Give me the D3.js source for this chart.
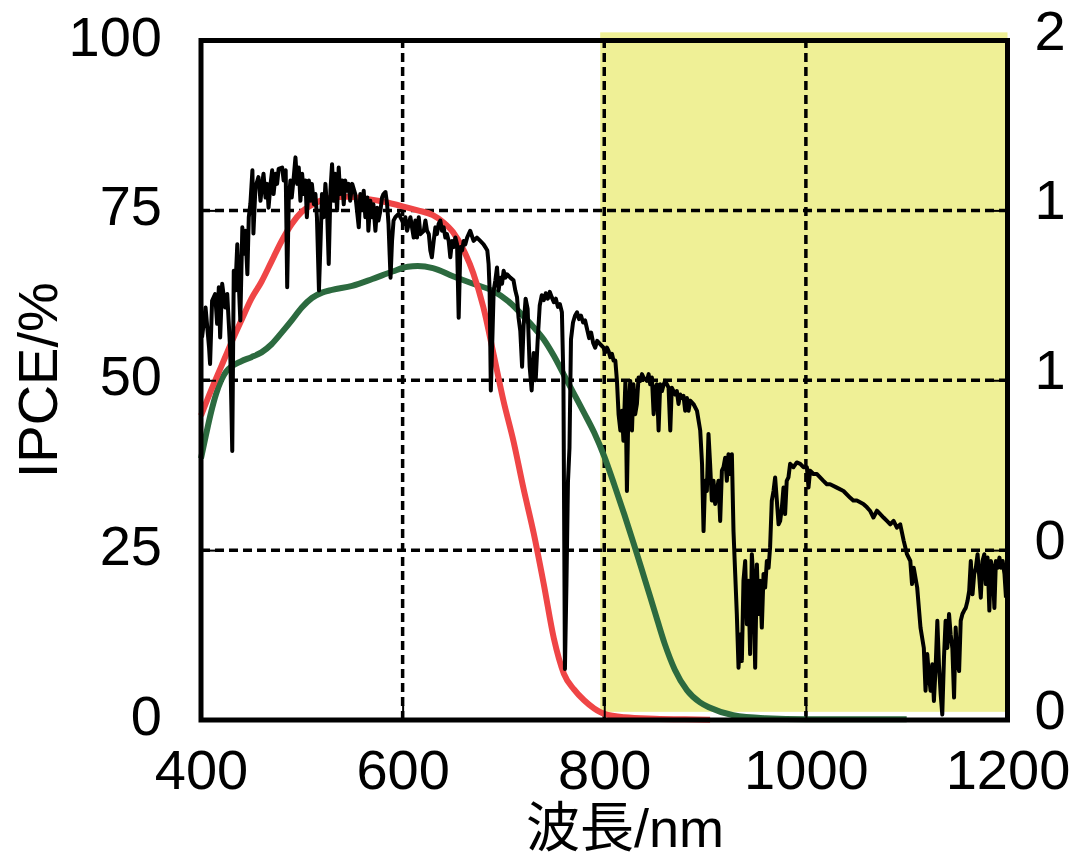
<!DOCTYPE html>
<html>
<head>
<meta charset="utf-8">
<script src="https://cdn.jsdelivr.net/npm/d3@7"></script>
<style>
  html, body { margin: 0; padding: 0; background: #fff; }
  svg { display: block; }
  text { font-family: "Liberation Sans", Arial, "Noto Sans CJK JP", sans-serif; fill: #000; }
</style>
</head>
<body>
<svg id="chart" width="1072" height="860"></svg>
<script>
// Axis ticks
const wavelengthTicks = [400, 600, 800, 1000, 1200];
const ipceTicks = [0, 25, 50, 75, 100];
const irradianceTicks = [0, 0.5, 1, 1.5, 2];
const irradianceTickLabels = ["0", "0", "1", "1", "2"];

// Near-infrared band that is shaded (nm) and its vertical extent (%)
const shadedBand = [796, 1200];
const shadedLevels = [1.2, 101.2];

// IPCE of the first cell (red), %
const redWavelength = [400, 410, 420, 430, 440, 450, 460, 470, 480, 490, 500, 510, 520, 530, 545, 560, 580, 600, 615, 630, 640, 650, 660, 670, 680, 690, 700, 710, 720, 730, 740, 750, 760, 770, 780, 790, 800, 820, 850, 880, 905];
const redIPCE = [44.8, 48.5, 52, 55.5, 58.8, 62, 64.5, 67.5, 70.5, 73, 74.8, 75.8, 76.5, 76.9, 77, 76.8, 76.3, 75.6, 75, 74.3, 73.3, 71.8, 69.3, 65.8, 60.8, 54, 47, 41, 34, 27.5, 20, 12, 6.8, 4.5, 2.9, 1.7, 0.9, 0.4, 0.2, 0.1, 0.05];

// IPCE of the second cell (green), %
const greenWavelength = [400, 405, 410, 415, 420, 425, 430, 440, 450, 460, 470, 480, 490, 500, 510, 520, 530, 550, 570, 590, 605, 615, 630, 650, 670, 690, 705, 720, 730, 740, 750, 760, 770, 780, 790, 800, 810, 820, 830, 840, 850, 860, 870, 882, 895, 905, 928, 960, 1000, 1050, 1100];
const greenIPCE = [38.5, 42, 45.3, 48, 50, 51.3, 52, 52.8, 53.4, 54.1, 55.3, 57, 58.8, 60.7, 62.1, 62.9, 63.3, 63.9, 64.9, 66, 66.7, 66.8, 66.5, 65.3, 64.2, 63.1, 61.6, 59.4, 57.8, 56, 53.6, 50.8, 48, 45.2, 42.3, 38.8, 34.6, 30.2, 25.6, 20.8, 16, 11.2, 7.4, 4.4, 2.6, 1.8, 0.7, 0.25, 0.1, 0.1, 0.1];

// Solar spectral irradiance (black), right axis
const solarWavelength = [
  401, 404.5, 408, 409, 411, 414, 416, 417.7, 419, 421, 424, 426, 427.6, 429, 431, 432.5, 434, 436, 437.5, 439,
  441, 442.5, 444, 446, 447.4, 449, 451, 452, 454, 457, 459, 460.7, 462, 464, 465.6, 467, 469, 470.6, 472, 474,
  475.5, 477, 480.5, 482, 484, 485.5, 487, 488.7, 490, 492, 493.7, 495.4, 497, 498.6, 500.3, 502, 503.6, 505, 507, 508.5,
  510, 512, 513.5, 515, 517, 518.5, 520, 521.7, 523.4, 525, 526.7, 528.4, 530, 531.6, 533, 535, 536.6, 538, 540, 541.6,
  543, 545, 546.5, 548, 550, 553, 556.5, 558, 560, 561.4, 563, 565, 566, 568, 569.7, 571, 573, 574.7, 576, 578,
  579.6, 581, 583, 584.6, 586, 588, 589.5, 591, 592.8, 596, 599.5, 601, 602.7, 604.4, 607.7, 611, 612.6, 614.3, 616, 617.6,
  621, 622.6, 624.2, 626, 627.5, 629, 630.8, 632.5, 634, 635.7, 637.4, 639, 640.7, 642.4, 644, 645.7, 647.3, 649, 650.6, 652.3,
  654, 655.6, 657.3, 659, 660.5, 662.2, 664, 667, 670.4, 673.7, 677, 680.3, 682, 684, 685.3, 686.3, 687.5, 689, 690.3, 692,
  693.6, 695.2, 697, 698.6, 700.2, 702, 703.5, 706.8, 710, 711.8, 713.5, 715, 716.7, 718.5, 720, 722, 724, 726, 728, 730,
  732, 734, 736, 738, 740, 742, 744, 746, 748, 750, 752, 754, 756, 758, 759.5, 761, 762.5, 764, 765.5, 767,
  769, 771, 773, 775, 777, 779, 781, 783, 785, 787, 789, 791, 793, 796, 799.3, 801, 802.7, 804.3, 806, 807.6,
  809.2, 811, 812.6, 814.2, 816, 817.6, 819, 821, 822.5, 824, 825.8, 827.5, 829, 830.7, 832.4, 834, 835.7, 837.4, 839, 842.3,
  844, 845.6, 847.3, 849, 850.6, 852.2, 853.9, 855.5, 857.2, 859, 860.5, 862.2, 863.8, 865.5, 867, 868.7, 870.4, 872, 873.7, 875.3,
  877, 878.6, 880.3, 882, 883.6, 885.3, 888.5, 892, 895.2, 897, 898.5, 900, 901.8, 903.4, 905, 906.7, 908.4, 910, 911.7, 913.3,
  915, 916.7, 918.3, 920, 921.6, 923.2, 925, 926.6, 928.2, 929.9, 931.5, 933.2, 934.9, 936.5, 938.1, 939.8, 941.5, 943, 944.7, 946.4,
  948, 949.7, 951.4, 953, 954.6, 956.3, 958, 959.6, 961.3, 963, 964.5, 966.2, 967.9, 969.5, 971.2, 972.9, 974.5, 976.2, 977.8, 979.4,
  981, 982.7, 984.4, 987.7, 991, 994.4, 997.6, 1001, 1002.6, 1004.2, 1007.5, 1011, 1017.4, 1020.8, 1024, 1030.7, 1037.3, 1044, 1047, 1050.6,
  1057, 1060.6, 1063.6, 1067, 1070.5, 1073.8, 1077, 1080.4, 1083.7, 1087, 1090.3, 1093.6, 1097, 1100.3, 1103.6, 1105.3, 1107, 1110.4, 1113.7, 1117,
  1118.7, 1120.4, 1122, 1123.7, 1125.4, 1127, 1128.7, 1130.4, 1132, 1133.7, 1135.3, 1137, 1138.6, 1140.3, 1142, 1143.6, 1145.3, 1147, 1148.6, 1150.3,
  1152, 1153.6, 1155.3, 1157, 1158.6, 1160.3, 1162, 1163.6, 1165.3, 1167, 1168.6, 1170.3, 1173.5, 1175.2, 1177, 1178.5, 1180.2, 1182, 1183.5, 1185.2,
  1187, 1188.5, 1190.2, 1192, 1193.5, 1195.2, 1197, 1198.5
];
const solarIrradiance = [
  1.126, 1.214, 1.096, 1.048, 1.234, 1.254, 1.166, 1.274, 1.126, 1.284, 1.214, 1.254, 1.166, 1.086, 0.792, 1.322, 1.264, 1.400, 1.284, 1.176,
  1.450, 1.372, 1.440, 1.312, 1.480, 1.520, 1.618, 1.432, 1.568, 1.598, 1.528, 1.578, 1.608, 1.538, 1.578, 1.508, 1.578, 1.618, 1.548, 1.608,
  1.578, 1.622, 1.626, 1.588, 1.618, 1.274, 1.528, 1.588, 1.538, 1.598, 1.656, 1.578, 1.626, 1.528, 1.608, 1.548, 1.588, 1.480, 1.588, 1.528,
  1.578, 1.518, 1.548, 1.480, 1.264, 1.400, 1.548, 1.480, 1.578, 1.508, 1.342, 1.558, 1.636, 1.528, 1.608, 1.500, 1.626, 1.548, 1.588, 1.518,
  1.588, 1.558, 1.578, 1.528, 1.578, 1.548, 1.450, 1.548, 1.508, 1.558, 1.480, 1.538, 1.440, 1.528, 1.480, 1.518, 1.440, 1.508, 1.470, 1.500,
  1.538, 1.548, 1.554, 1.518, 1.460, 1.302, 1.410, 1.470, 1.480, 1.490, 1.470, 1.460, 1.480, 1.440, 1.480, 1.420, 1.470, 1.420, 1.480, 1.430,
  1.440, 1.470, 1.440, 1.430, 1.382, 1.362, 1.410, 1.450, 1.430, 1.460, 1.470, 1.440, 1.450, 1.420, 1.430, 1.410, 1.362, 1.410, 1.392, 1.420,
  1.400, 1.184, 1.392, 1.382, 1.410, 1.400, 1.420, 1.440, 1.410, 1.420, 1.410, 1.400, 1.392, 1.382, 1.342, 1.264, 0.970, 1.120, 1.264, 1.294,
  1.332, 1.264, 1.302, 1.284, 1.322, 1.302, 1.312, 1.302, 1.294, 1.264, 1.244, 1.184, 1.146, 1.040, 1.160, 1.240, 1.210, 1.040, 0.970, 1.080,
  1.000, 1.120, 1.220, 1.250, 1.236, 1.256, 1.240, 1.260, 1.244, 1.230, 1.240, 1.216, 1.224, 1.200, 1.000, 0.150, 0.400, 0.700, 0.800, 1.120,
  1.170, 1.190, 1.200, 1.180, 1.190, 1.170, 1.176, 1.150, 1.124, 1.140, 1.110, 1.096, 1.116, 1.106, 1.096, 1.082, 1.096, 1.086, 1.068, 1.078,
  1.058, 1.058, 0.998, 0.900, 0.852, 0.910, 0.822, 0.998, 0.674, 0.920, 0.998, 0.852, 0.988, 0.900, 0.930, 1.008, 0.998, 1.018, 1.008, 0.998,
  1.018, 0.988, 1.008, 0.900, 0.978, 0.988, 0.852, 0.988, 0.968, 0.988, 0.998, 0.988, 0.978, 0.852, 0.978, 0.968, 0.958, 0.968, 0.930, 0.958,
  0.948, 0.954, 0.910, 0.948, 0.910, 0.940, 0.930, 0.910, 0.852, 0.754, 0.556, 0.704, 0.674, 0.842, 0.754, 0.646, 0.704, 0.636, 0.674, 0.704,
  0.586, 0.734, 0.744, 0.772, 0.704, 0.782, 0.724, 0.782, 0.556, 0.430, 0.312, 0.154, 0.252, 0.174, 0.410, 0.468, 0.282, 0.410, 0.194, 0.488,
  0.410, 0.154, 0.458, 0.312, 0.410, 0.272, 0.430, 0.390, 0.468, 0.448, 0.508, 0.646, 0.674, 0.714, 0.646, 0.576, 0.586, 0.626, 0.684, 0.606,
  0.704, 0.714, 0.754, 0.744, 0.758, 0.754, 0.744, 0.744, 0.684, 0.734, 0.724, 0.724, 0.704, 0.694, 0.694, 0.684, 0.674, 0.654, 0.646, 0.646,
  0.636, 0.626, 0.616, 0.596, 0.616, 0.606, 0.596, 0.586, 0.576, 0.586, 0.566, 0.576, 0.528, 0.488, 0.468, 0.400, 0.448, 0.390, 0.272, 0.212,
  0.086, 0.194, 0.134, 0.086, 0.164, 0.056, 0.154, 0.292, 0.164, 0.076, 0.016, 0.184, 0.292, 0.212, 0.312, 0.252, 0.212, 0.066, 0.272, 0.174,
  0.144, 0.292, 0.312, 0.322, 0.330, 0.350, 0.380, 0.468, 0.370, 0.430, 0.448, 0.488, 0.360, 0.468, 0.488, 0.400, 0.478, 0.322, 0.468, 0.448,
  0.330, 0.468, 0.448, 0.478, 0.448, 0.468, 0.430, 0.360
];

const svg = d3.select("#chart");

const x = d3.scaleLinear().domain([400, 1200]).range([201, 1007.5]);
const y = d3.scaleLinear().domain([0, 100]).range([720, 40.5]);
const y2 = d3.scaleLinear().domain([0, 2]).range([720, 40.5]);

// shaded band
svg.append("rect")
  .attr("x", x(shadedBand[0]))
  .attr("y", y(shadedLevels[1]))
  .attr("width", x(shadedBand[1]) - x(shadedBand[0]))
  .attr("height", y(shadedLevels[0]) - y(shadedLevels[1]))
  .attr("fill", "#eff096");

// dashed grid
const grid = svg.append("g")
  .attr("stroke", "#000")
  .attr("stroke-width", 3.5)
  .attr("stroke-dasharray", "9,5");
grid.selectAll("line.v").data(wavelengthTicks).join("line")
  .attr("class", "v")
  .attr("x1", d => x(d)).attr("x2", d => x(d))
  .attr("y1", y(0)).attr("y2", y(100));
grid.selectAll("line.h").data(ipceTicks).join("line")
  .attr("class", "h")
  .attr("x1", x(400)).attr("x2", x(1200))
  .attr("y1", d => y(d)).attr("y2", d => y(d));

// curves
const smooth = (xs, ys) => d3.line()
  .x((d, i) => x(xs[i]))
  .y(d => y(d))
  .curve(d3.curveMonotoneX)(ys);

svg.append("path")
  .attr("d", smooth(greenWavelength, greenIPCE))
  .attr("fill", "none")
  .attr("stroke", "#2c6a3f")
  .attr("stroke-width", 6)
  .attr("stroke-linejoin", "round");

svg.append("path")
  .attr("d", smooth(redWavelength, redIPCE))
  .attr("fill", "none")
  .attr("stroke", "#ef4546")
  .attr("stroke-width", 6)
  .attr("stroke-linejoin", "round");

svg.append("path")
  .attr("d", d3.line()
    .x((d, i) => x(solarWavelength[i]))
    .y(d => y2(d))(solarIrradiance))
  .attr("fill", "none")
  .attr("stroke", "#000")
  .attr("stroke-width", 4)
  .attr("stroke-linejoin", "round");

// frame
svg.append("rect")
  .attr("x", x(400)).attr("y", y(100))
  .attr("width", x(1200) - x(400))
  .attr("height", y(0) - y(100))
  .attr("fill", "none")
  .attr("stroke", "#000")
  .attr("stroke-width", 5);

// axes with inward ticks
const styleAxis = g => {
  g.select(".domain").remove();
  g.selectAll(".tick line").attr("stroke", "#000").attr("stroke-width", 2);
  g.selectAll(".tick text").attr("font-size", 56).attr("fill", "#000")
    .attr("font-family", "'Liberation Sans', Arial, sans-serif");
};

svg.append("g")
  .attr("transform", `translate(${x(400)},0)`)
  .call(d3.axisLeft(y).tickValues(ipceTicks).tickSize(-15).tickPadding(39))
  .call(styleAxis)
  .call(g => g.selectAll(".tick text").attr("dy", null).attr("y", 14.5));

svg.append("g")
  .attr("transform", `translate(${x(1200)},0)`)
  .call(d3.axisRight(y2).tickValues(irradianceTicks)
    .tickFormat((d, i) => irradianceTickLabels[i])
    .tickSize(-15).tickPadding(27))
  .call(styleAxis)
  .call(g => g.selectAll(".tick text").attr("dy", null).attr("y", 8.5));

svg.append("g")
  .attr("transform", `translate(0,${y(0)})`)
  .call(d3.axisBottom(x).tickValues(wavelengthTicks).tickFormat(d3.format("d"))
    .tickSize(-15).tickPadding(0))
  .call(styleAxis)
  .call(g => g.selectAll(".tick text").attr("dy", null).attr("y", 69));

// axis titles
svg.append("text")
  .attr("transform", `translate(57,${(y(0) + y(100)) / 2}) rotate(-90)`)
  .attr("text-anchor", "middle")
  .attr("font-size", 56)
  .text("IPCE/%");

svg.append("text")
  .attr("x", 625)
  .attr("y", 847)
  .attr("text-anchor", "middle")
  .attr("font-size", 54)
  .text("波長/nm");
</script>
</body>
</html>
